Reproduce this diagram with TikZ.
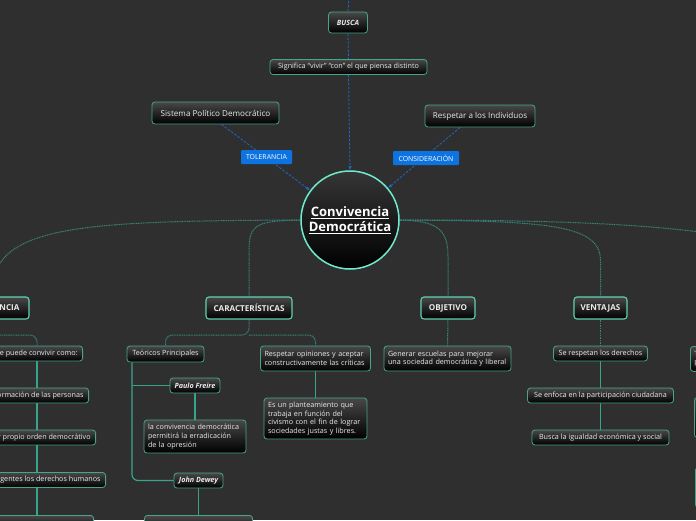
\documentclass[tikz,border=0pt]{standalone}
\usepackage{fontspec}
\setmainfont{Open Sans}
\usetikzlibrary{arrows.meta}
\definecolor{bgc}{RGB}{48,47,48}
\definecolor{nb}{RGB}{70,165,140}
\definecolor{nbt}{RGB}{95,210,180}
\definecolor{cb}{RGB}{110,235,205}
\definecolor{gt}{RGB}{72,72,72}
\definecolor{txt}{RGB}{235,235,235}
\definecolor{dl}{RGB}{55,135,120}
\definecolor{sl}{RGB}{55,165,140}
\definecolor{bl}{RGB}{30,105,195}
\definecolor{lbl}{RGB}{12,115,225}
\newcommand\fsz{\fontsize{7.2}{8.6}\selectfont}
\newcommand\fmd{\fontsize{8.1}{9.5}\selectfont}
\newcommand\ftl{\fontsize{8.1}{9.5}\selectfont}
\newcommand\flb{\fontsize{6.9}{8}\selectfont}
\pgfdeclarelayer{bg}\pgfdeclarelayer{lines}
\pgfsetlayers{bg,lines,main}
\tikzset{
  box/.style={rounded corners=3pt, draw=nb, line width=0.8pt, top color=gt, bottom color=black,
    text=txt, font=\fsz, inner sep=0pt, align=center},
  topbox/.style={box, draw=nbt, line width=1.1pt, font=\ftl\bfseries, minimum height=22pt},
  lbox/.style={box, align=left},
  tag/.style={fill=lbl, rounded corners=1pt, text=white, font=\flb, inner sep=0pt, minimum height=14pt},
  bline/.style={draw=bl, dash pattern=on 2.5pt off 1.5pt, line width=0.8pt},
  barrow/.style={bline, -{Latex[length=4pt,width=3.5pt]}},
  dline/.style={draw=dl, line width=1pt, dash pattern=on 1pt off 0.7pt},
  sline/.style={draw=sl, line width=1.2pt}
}
\begin{document}
\begin{tikzpicture}[x=1pt,y=-1pt]
\begin{pgfonlayer}{bg}
\fill[bgc] (0,0) rectangle (696,520);
\end{pgfonlayer}
\useasboundingbox (0,0) rectangle (696,520);

% centre
\node[circle, draw=cb, line width=1.5pt, top color=gt!110, bottom color=black, minimum size=98pt,
  inner sep=0pt, text=white, align=center, font=\fontsize{13}{15}\selectfont\bfseries] (c) at (350,220)
  {\underline{Convivencia}\\ \underline{Democrática}};

% top part
\coordinate (topend) at (349,-3);
\node[box, minimum width=39pt, minimum height=21pt, font=\fsz\bfseries\itshape] (busca) at (348,22.5) {BUSCA};
\node[box, minimum width=157pt, minimum height=15pt] (signif) at (348.5,67) {Significa “vivir” “con” el que piensa distinto};
\node[box, minimum width=127pt, minimum height=22pt, font=\fmd] (sistema) at (215.5,113) {Sistema Político Democrático};
\node[box, minimum width=110pt, minimum height=22pt, font=\fmd] (respind) at (480,116) {Respetar a los Individuos};

% top level
\node[topbox, minimum width=76pt] (ancia) at (-9,308) {IMPORTANCIA};
\node[topbox, minimum width=86pt] (caract) at (249,308) {CARACTERÍSTICAS};
\node[topbox, minimum width=54pt] (objetivo) at (448,308) {OBJETIVO};
\node[topbox, minimum width=53pt] (ventajas) at (600.5,308) {VENTAJAS};

% left branch
\coordinate (lj) at (37,335);
\node[box, anchor=east, minimum height=15pt, inner xsep=5pt] (left1) at (83,353.5) {Se puede convivir como:};
\node[box, anchor=east, minimum height=15pt, inner xsep=5pt] (left2) at (89,395.5) {Formación de las personas};
\node[box, anchor=east, minimum height=15pt, inner xsep=5pt] (left3) at (96,437.5) {Mantener propio orden democrátivo};
\node[box, anchor=east, minimum height=15pt, inner xsep=5pt] (left4) at (106,480) {Hacer vigentes los derechos humanos};
\node[box, anchor=north east, minimum height=15pt, minimum width=150pt] (left5) at (94,515) {};

% characteristics
\coordinate (cj) at (249,335);
\coordinate (tx) at (132,0);
\node[box, minimum width=77pt, minimum height=16pt] (teo) at (165.5,354) {Teóricos Principales};
\node[lbox, minimum width=110pt, minimum height=25pt, text width=102pt] (resp) at (315.5,358.5)
  {Respetar opiniones y aceptar\\constructivamente las críticas};
\node[lbox, minimum width=103pt, minimum height=41pt, text width=95pt] (plant) at (315.5,418.5)
  {Es un planteamiento que\\trabaja en función del\\civismo con el fin de lograr\\sociedades justas y libres.};
\node[box, minimum width=50pt, minimum height=15pt, font=\fsz\bfseries\itshape] (paulo) at (195,385.5) {Paulo Freire};
\node[lbox, minimum width=102pt, minimum height=33pt, text width=94pt] (conv) at (195,436.5)
  {la convivencia democrática\\permitirá la erradicación\\de la opresión};
\node[box, minimum width=49pt, minimum height=15pt, font=\fsz\bfseries\itshape] (john) at (198.5,480.5) {John Dewey};
\node[box, anchor=north, minimum width=108pt, minimum height=20pt] (johnc) at (198.5,515) {};

% objective
\node[lbox, minimum width=127pt, minimum height=25pt, text width=119pt] (gen) at (447.5,358.5)
  {Generar escuelas para mejorar\\una sociedad democrática y liberal};

% advantages
\node[box, minimum width=94pt, minimum height=15pt] (v1) at (600.5,353.5) {Se respetan los derechos};
\node[box, minimum width=146pt, minimum height=15pt] (v2) at (600.5,395.5) {Se enfoca en la participación ciudadana};
\node[box, minimum width=137pt, minimum height=15pt] (v3) at (600.5,437.5) {Busca la igualdad económica y social};

% right edge
\coordinate (rend) at (730,236);
\node[lbox, anchor=north west, minimum width=110pt, minimum height=25pt, text width=102pt] (r1) at (690,346) {T\\p};
\node[box, anchor=north west, minimum width=110pt, minimum height=40pt] (r2) at (694,397) {};
\node[box, anchor=north west, minimum width=110pt, minimum height=40pt] (r3) at (695,467) {};

% tags
\node[tag, minimum width=51pt] (tol) at (266.5,157) {TOLERANCIA};
\node[tag, minimum width=66pt] (cons) at (426,158) {CONSIDERACIÓN};

\begin{pgfonlayer}{lines}
% blue dashed
\draw[bline] (topend) -- (busca.north);
\draw[bline] (busca.south) -- (signif.north);
\draw[barrow] (signif.south) -- (c.north);
\draw[barrow] ([xshift=6pt]sistema.south) -- (c);
\draw[barrow] ([xshift=-20pt]respind.south) -- (c);
% top-level dotted
\draw[dline] (c.west) .. controls (70,221) and (-9,226) .. (ancia.north);
\draw[dline] (c.west) .. controls (256,221) and (249,224) .. ([yshift=45pt]caract.north) -- (caract.north);
\draw[dline] (c.east) .. controls (436,221) and (448,228) .. ([yshift=40pt]objetivo.north) -- (objetivo.north);
\draw[dline] (c.east) .. controls (545,221) and (600.5,224) .. ([yshift=36pt]ventajas.north) -- (ventajas.north);
\draw[dline] (c.east) .. controls (560,220) and (650,224) .. (rend);
% second level
\draw[dline, rounded corners=7pt] (ancia.south) |- (lj) -- (left1.north -| lj);
\draw[dline, rounded corners=7pt] (caract.south) -- (cj) -| (teo.north);
\draw[dline, rounded corners=7pt] (cj) -| (resp.north);
\draw[dline] (objetivo.south) -- (gen.north);
\draw[dline] (ventajas.south) -- (v1.north);
% solid
\draw[sline] (left1.south -| lj) -- (left2.north -| lj);
\draw[sline] (left2.south -| lj) -- (left3.north -| lj);
\draw[sline] (left3.south -| lj) -- (left4.north -| lj);
\draw[sline] (left4.south -| lj) -- (left5.north -| lj);
\draw[sline, rounded corners=6pt] (teo.south -| tx) |- (john.west);
\draw[sline] (paulo.west -| tx) -- (paulo.west);
\draw[sline] (paulo.south) -- (conv.north);
\draw[sline] (john.south) -- (johnc.north);
\draw[sline] (resp.south) -- (plant.north);
\draw[sline] (v1.south) -- (v2.north);
\draw[sline] (v2.south) -- (v3.north);
\end{pgfonlayer}
\end{tikzpicture}
\end{document}
